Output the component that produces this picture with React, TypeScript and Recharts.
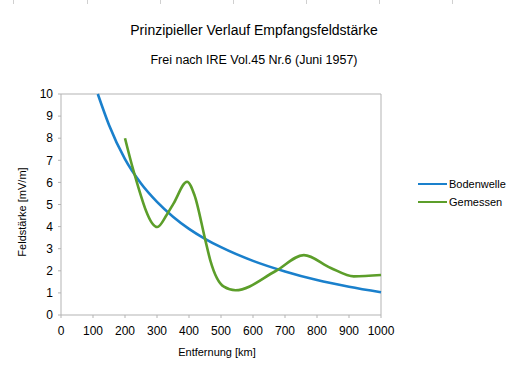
import { LineChart, Line, XAxis, YAxis, ReferenceLine } from "recharts";

// Bodenwelle
const bodenKm = [115, 150, 200, 250, 300, 350, 400, 450, 500, 600, 700, 800, 900, 1000];
const bodenMv = [10, 8.6, 7.05, 5.95, 5.12, 4.45, 3.9, 3.45, 3.07, 2.45, 1.97, 1.58, 1.28, 1.03];

// Gemessen
const gemKm = [200, 226, 301, 331, 352, 394, 417, 451, 467, 509, 545, 671, 759, 843, 915, 1000];
const gemMv = [8.0, 6.56, 3.98, 4.55, 5.05, 6.03, 5.43, 3.39, 2.45, 1.28, 1.12, 1.99, 2.71, 2.13, 1.75, 1.81];

const xTicks = [0, 100, 200, 300, 400, 500, 600, 700, 800, 900, 1000];
const yTicks = [0, 1, 2, 3, 4, 5, 6, 7, 8, 9, 10];
const topMarks = [13, 87, 160, 233, 306, 379, 452];

const bodenData = bodenKm.map((x, i) => ({ x, y: bodenMv[i] }));
const gemData = gemKm.map((x, i) => ({ x, y: gemMv[i] }));

const FONT = "'Liberation Sans', Arial, sans-serif";
const AXIS = "#b3b3b3";
const BLUE = "#1a80cc";
const GREEN = "#5c9e2a";

export default function App() {
  return (
    <div
      style={{
        position: "absolute",
        left: 0,
        top: 0,
        width: 508,
        height: 370,
        background: "#fff",
        fontFamily: FONT,
        color: "#000",
        overflow: "hidden",
      }}
    >
      {topMarks.map((x) => (
        <div key={x} style={{ position: "absolute", left: x, top: 0, width: 1, height: 4, background: "#d0d0d0" }} />
      ))}
      <div style={{ position: "absolute", left: 0, width: 508, top: 22, textAlign: "center", fontSize: 14 }}>
        Prinzipieller Verlauf Empfangsfeldstärke
      </div>
      <div style={{ position: "absolute", left: 0, width: 508, top: 53, textAlign: "center", fontSize: 12.5 }}>
        Frei nach IRE Vol.45 Nr.6 (Juni 1957)
      </div>
      <LineChart width={508} height={370} margin={{ top: 94, right: 127, bottom: 35, left: 31 }}>
        <XAxis
          type="number"
          dataKey="x"
          domain={[0, 1000]}
          ticks={xTicks}
          height={20}
          stroke={AXIS}
          tickSize={3}
          tickMargin={8}
          tick={{ fill: "#000", fontSize: 12, fontFamily: FONT }}
          allowDuplicatedCategory={false}
        />
        <YAxis
          type="number"
          dataKey="y"
          domain={[0, 10]}
          ticks={yTicks}
          width={30}
          stroke={AXIS}
          tickSize={3}
          tickMargin={5}
          tick={{ fill: "#000", fontSize: 12, fontFamily: FONT }}
        />
        <ReferenceLine y={10} stroke={AXIS} />
        <ReferenceLine x={1000} stroke={AXIS} />
        <Line
          data={bodenData}
          dataKey="y"
          type="monotone"
          stroke={BLUE}
          strokeWidth={2.6}
          dot={false}
          isAnimationActive={false}
        />
        <Line
          data={gemData}
          dataKey="y"
          type="monotone"
          stroke={GREEN}
          strokeWidth={2.6}
          dot={false}
          isAnimationActive={false}
        />
      </LineChart>
      <div
        style={{
          position: "absolute",
          left: 22,
          top: 212,
          fontSize: 11,
          whiteSpace: "nowrap",
          transform: "translate(-50%, -50%) rotate(-90deg)",
        }}
      >
        Feldstärke [mV/m]
      </div>
      <div style={{ position: "absolute", left: 117, width: 200, top: 346, textAlign: "center", fontSize: 11 }}>
        Entfernung [km]
      </div>
      <div style={{ position: "absolute", left: 418, top: 175, fontSize: 11, lineHeight: "18px" }}>
        <div style={{ display: "flex", alignItems: "center" }}>
          <span style={{ width: 29, height: 2, background: BLUE, marginRight: 2 }} />
          Bodenwelle
        </div>
        <div style={{ display: "flex", alignItems: "center" }}>
          <span style={{ width: 29, height: 2, background: GREEN, marginRight: 2 }} />
          Gemessen
        </div>
      </div>
    </div>
  );
}
